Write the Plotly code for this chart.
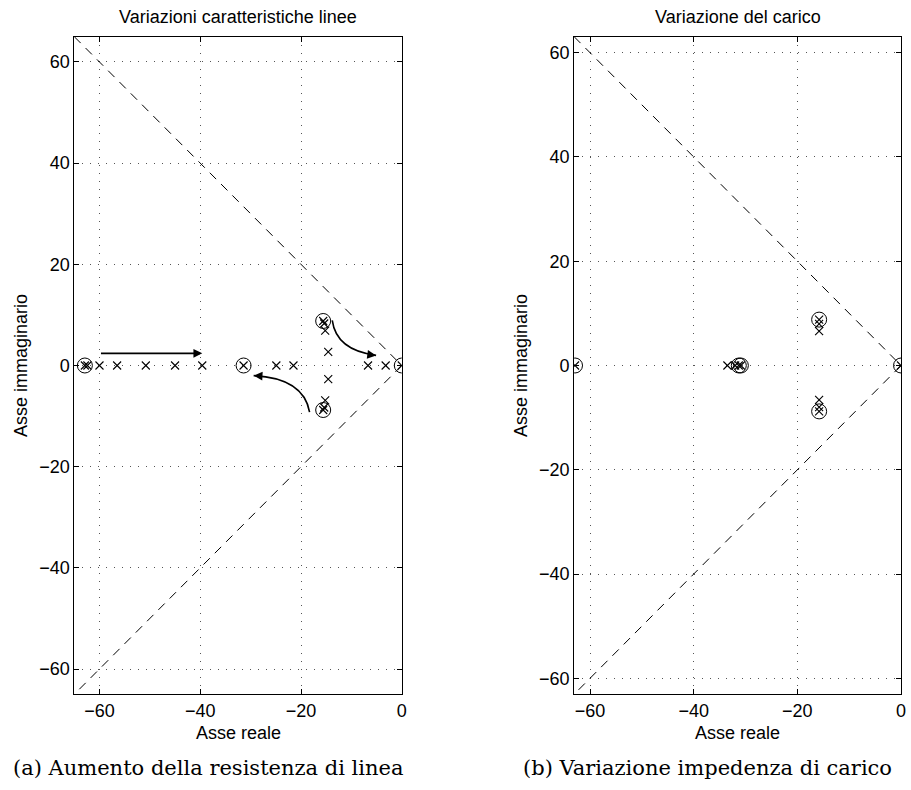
import plotly.graph_objects as go

# ---- data: pole locations (real, imaginary) ----
# (a) line resistance increase
a_circle_re = [-62.9, -31.4, -15.6, -15.6, 0.0]
a_circle_im = [0.0, 0.0, 8.8, -8.8, 0.0]
a_cross_re = [-62.9, -62.4, -60.0, -56.5, -50.8, -45.0, -39.6, -31.4, -24.9, -21.5, -6.7, -3.2, 0.0,
              -15.6, -15.4, -15.2, -14.6, -14.6, -15.2, -15.4, -15.6]
a_cross_im = [0.0, 0.0, 0.0, 0.0, 0.0, 0.0, 0.0, 0.0, 0.0, 0.0, 0.0, 0.0, 0.0,
              8.8, 8.3, 6.9, 2.7, -2.7, -6.9, -8.3, -8.8]

# (b) load impedance variation
b_circle_re = [-62.9, -31.3, -30.9, -15.8, -15.8, 0.0]
b_circle_im = [0.0, 0.0, 0.0, 8.8, -8.8, 0.0]
b_cross_re = [-62.9, -33.5, -32.0, -31.3, -30.9, 0.0,
              -15.8, -15.8, -15.8, -15.8, -15.8, -15.8]
b_cross_im = [0.0, 0.0, 0.0, 0.0, 0.0, 0.0,
              8.8, 8.0, 6.6, -6.6, -8.0, -8.8]

# axis limits and ticks
a_lim = 65.0
b_lim = 63.07
x_ticks = [-60, -40, -20, 0]
y_ticks = [-60, -40, -20, 0, 20, 40, 60]

# arrows: (tail_re, tail_im, head_re, head_im)
a_straight_arrow = (-60.0, 2.4, -39.6, 2.4)
# curved arrows: start, control, end
a_curve_up = ((-13.8, 8.9), (-13.0, 3.0), (-5.1, 2.0))
a_curve_lo = ((-18.3, -9.2), (-19.5, -2.5), (-29.4, -2.0))

titles = ["Variazioni caratteristiche linee", "Variazione del carico"]
captions = ["(a) Aumento della resistenza di linea", "(b) Variazione impedenza di carico"]
x_title = "Asse reale"
y_title = "Asse immaginario"

W, H = 911, 790
SANS = "Liberation Sans, Arial, Helvetica, sans-serif"
SERIF = "DejaVu Serif, serif"


def px(x):
    return x / W


def py(y):
    return 1 - y / H


fig = go.Figure()

# panel boxes in pixels: (left, right, top, bottom)
boxes = [(74.7, 404.0, 36.7, 694.3), (577.3, 906.0, 36.7, 694.3)]
lims = [a_lim, b_lim]

for i, lim in enumerate(lims):
    xa = "x" if i == 0 else "x2"
    ya = "y" if i == 0 else "y2"
    # damping boundary lines at 45 degrees
    fig.add_trace(go.Scatter(x=[-lim, 0, -lim], y=[lim, 0, -lim], mode="lines",
                             line=dict(color="black", width=1, dash="9px,7px"),
                             xaxis=xa, yaxis=ya, hoverinfo="skip", showlegend=False))

sets = [(a_circle_re, a_circle_im, a_cross_re, a_cross_im),
        (b_circle_re, b_circle_im, b_cross_re, b_cross_im)]
for i, (cr, ci, xr, xi) in enumerate(sets):
    xa = "x" if i == 0 else "x2"
    ya = "y" if i == 0 else "y2"
    fig.add_trace(go.Scatter(x=xr, y=xi, mode="markers",
                             marker=dict(symbol="x-thin-open", size=8, color="black",
                                         line=dict(color="black", width=1.1)),
                             xaxis=xa, yaxis=ya, showlegend=False))
    fig.add_trace(go.Scatter(x=cr, y=ci, mode="markers",
                             marker=dict(symbol="circle-open", size=15, color="black",
                                         line=dict(color="black", width=1)),
                             xaxis=xa, yaxis=ya, showlegend=False))

# straight arrow
t_re, t_im, h_re, h_im = a_straight_arrow
fig.add_annotation(x=h_re, y=h_im, ax=t_re, ay=t_im, xref="x", yref="y",
                   axref="x", ayref="y", text="", showarrow=True,
                   arrowhead=2, arrowsize=1.1, arrowwidth=1.6, arrowcolor="black")

# curved arrows
for (p0, c, p1) in [a_curve_up, a_curve_lo]:
    fig.add_shape(type="path", xref="x", yref="y",
                  path=f"M {p0[0]},{p0[1]} Q {c[0]},{c[1]} {p1[0]},{p1[1]}",
                  line=dict(color="black", width=1.6))
    dx, dy = p1[0] - c[0], p1[1] - c[1]
    n = (dx * dx + dy * dy) ** 0.5
    fig.add_annotation(x=p1[0], y=p1[1], ax=p1[0] - 1.2 * dx / n, ay=p1[1] - 1.2 * dy / n,
                       xref="x", yref="y", axref="x", ayref="y", text="", showarrow=True,
                       arrowhead=2, arrowsize=1.1, arrowwidth=1.6, arrowcolor="black")

axis_style = dict(showline=True, linecolor="black", linewidth=1, mirror="ticks",
                  ticks="inside", ticklen=5, tickcolor="black", tickwidth=1,
                  showgrid=True, gridcolor="#555", gridwidth=1, griddash="1px,7px",
                  zeroline=False, tickfont=dict(family=SANS, size=18, color="black"))

layout_axes = {}
for i, ((l, r, t, b), lim) in enumerate(zip(boxes, lims)):
    sx = "" if i == 0 else "2"
    layout_axes[f"xaxis{sx}"] = dict(domain=[px(l), px(r)], range=[-lim, 0],
                                     tickvals=x_ticks, anchor=f"y{sx}", **axis_style)
    layout_axes[f"yaxis{sx}"] = dict(domain=[py(b), py(t)], range=[-lim, lim],
                                     tickvals=y_ticks, anchor=f"x{sx}", **axis_style)

fig.update_layout(width=W, height=H, margin=dict(l=0, r=0, t=0, b=0),
                  paper_bgcolor="white", plot_bgcolor="white", showlegend=False,
                  **layout_axes)

for i, (l, r, t, b) in enumerate(boxes):
    cx = (l + r) / 2
    fig.add_annotation(x=px(cx), y=py(16.7), xref="paper", yref="paper", text=titles[i],
                       showarrow=False, font=dict(family=SANS, size=18, color="black"),
                       xanchor="center", yanchor="middle")
    fig.add_annotation(x=px(cx), y=py(732.7), xref="paper", yref="paper", text=x_title,
                       showarrow=False, font=dict(family=SANS, size=18, color="black"),
                       xanchor="center", yanchor="middle")
    fig.add_annotation(x=px(l - 54), y=py((t + b) / 2), xref="paper", yref="paper",
                       text=y_title, textangle=-90, showarrow=False,
                       font=dict(family=SANS, size=18, color="black"),
                       xanchor="center", yanchor="middle")

caption_cx = [209.5, 711.7]
for i, cap in enumerate(captions):
    fig.add_annotation(x=px(caption_cx[i]), y=py(768.3), xref="paper", yref="paper",
                       text=cap, showarrow=False,
                       font=dict(family=SERIF, size=21, color="black"),
                       xanchor="center", yanchor="middle")

fig.write_html("out.html")
